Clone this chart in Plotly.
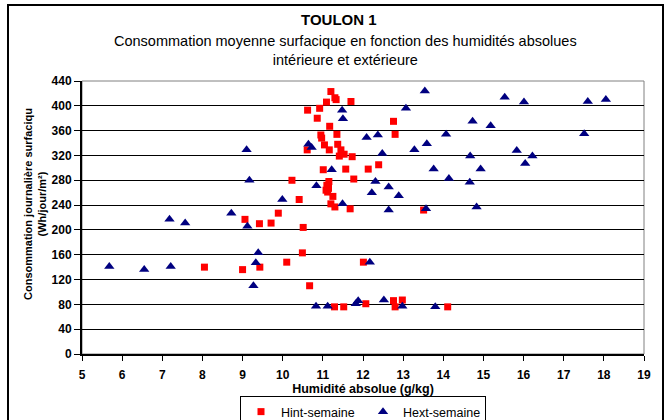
import plotly.graph_objects as go

# Hint-semaine (red squares)
hint_x = [11.20, 11.30, 11.33, 11.09, 11.70, 10.62, 10.92, 10.86, 11.17, 10.95,
          11.35, 10.97, 11.04, 11.37, 11.16, 11.45, 10.61, 11.53, 11.41, 11.73,
          11.01, 11.57, 12.13, 12.39, 11.77, 10.23, 11.15, 11.10, 11.14, 11.08,
          11.12, 11.25, 10.41, 11.20, 11.30, 11.68, 9.89, 9.06, 9.42, 9.71,
          10.51, 12.76, 12.80, 13.51, 8.05, 9.00, 9.43, 10.10, 10.49, 10.67,
          12.01, 11.29, 11.52, 12.07, 12.76, 12.80, 12.98, 14.11]
hint_y = [423, 413, 410, 406, 407, 393, 396, 380, 367, 353,
          354, 348, 337, 338, 329, 329, 329, 322, 319, 318,
          297, 298, 298, 305, 282, 280, 278, 272, 267, 264,
          261, 254, 249, 242, 237, 234, 227, 217, 210, 211,
          204, 375, 354, 232, 140, 136, 140, 148, 163, 110,
          148, 76, 76, 81, 86, 76, 87, 76]

# Hext-semaine (navy triangles)
hext_x = [11.48, 11.50, 10.64, 10.72, 9.10, 11.22, 9.17, 10.84, 9.99, 11.49,
          8.72, 7.18, 7.57, 9.12, 5.68, 6.55, 7.21, 9.39, 9.33, 9.27,
          10.83, 11.12, 11.82, 11.88, 13.54, 13.07, 15.53, 16.01, 17.60, 18.05,
          14.73, 15.18, 12.09, 12.37, 14.07, 17.51, 13.59, 13.28, 15.83, 12.48,
          14.67, 16.22, 16.04, 13.76, 14.93, 12.31, 14.14, 14.66, 12.64, 12.22,
          12.89, 12.64, 13.57, 14.83, 12.17, 12.52, 12.98, 13.80]
hext_y = [393, 379, 338, 333, 329, 297, 280, 271, 249, 242,
          227, 217, 211, 206, 141, 136, 141, 163, 147, 110,
          77, 77, 81, 86, 424, 396, 414, 406, 407, 410,
          375, 368, 349, 353, 354, 355, 339, 329, 328, 323,
          319, 319, 307, 298, 298, 278, 283, 277, 269, 260,
          255, 232, 234, 237, 148, 87, 77, 76]

x_ticks = list(range(5, 20))
y_ticks = list(range(0, 441, 40))

title_main = "TOULON 1"
subtitle = "Consommation moyenne surfacique en fonction des humidités absolues<br>intérieure et extérieure"
x_title = "Humidité absolue (g/kg)"
y_title = "Consommation journalière surfaciqu<br>(Wh/jour/m²)"

FONT = "Liberation Sans, Arial, sans-serif"

fig = go.Figure()
fig.add_trace(go.Scatter(
    x=hint_x, y=hint_y, mode="markers", name="Hint-semaine",
    marker=dict(symbol="square", size=7, color="#FF0000"),
))
fig.add_trace(go.Scatter(
    x=hext_x, y=hext_y, mode="markers", name="Hext-semaine",
    marker=dict(symbol="triangle-up", size=9, color="#000080"),
))

W, H = 672, 420
L, R, T, B = 82, 644, 81, 354
pw, ph = R - L, B - T


def px2x(p):
    return (p - L) / pw


def py2y(p):
    return (B - p) / ph


fig.update_layout(
    width=W, height=H,
    margin=dict(l=L, r=W - R, t=T, b=H - B, autoexpand=False),
    paper_bgcolor="white", plot_bgcolor="white",
    font=dict(family=FONT, color="black", size=11),
    showlegend=True,
    legend=dict(
        orientation="h", x=px2x(240), xanchor="left", y=py2y(396), yanchor="top",
        bordercolor="black", borderwidth=1, bgcolor="white",
        font=dict(family=FONT, size=12.5, color="black"),
        itemwidth=30, entrywidth=77, tracegroupgap=0,
    ),
    xaxis=dict(
        range=[5, 19], tickvals=x_ticks, ticktext=["<b>%d</b>" % v for v in x_ticks],
        showgrid=False, zeroline=False, automargin=False,
        showline=True, linecolor="black", linewidth=2,
        ticks="outside", ticklen=5, tickcolor="black", tickwidth=1,
        ticklabelstandoff=4,
        tickfont=dict(family=FONT, size=12),
        title=dict(text="<b>" + x_title + "</b>", font=dict(family=FONT, size=12.5), standoff=2),
    ),
    yaxis=dict(
        range=[0, 440], tickvals=y_ticks, ticktext=["<b>%d</b>" % v for v in y_ticks],
        showgrid=True, gridcolor="black", gridwidth=1, zeroline=False, automargin=False,
        showline=True, linecolor="black", linewidth=2,
        ticks="outside", ticklen=6, tickcolor="black", tickwidth=1,
        tickfont=dict(family=FONT, size=12),
    ),
    shapes=[
        dict(type="rect", xref="paper", yref="paper", x0=0, x1=1, y0=0, y1=1,
             line=dict(color="#808080", width=1), layer="below"),
        dict(type="rect", xref="paper", yref="paper",
             x0=px2x(8), x1=px2x(663), y0=py2y(430), y1=py2y(5),
             line=dict(color="black", width=2)),
    ],
    annotations=[
        dict(text="<b>" + title_main + "</b>", xref="paper", yref="paper",
             x=px2x(339), y=py2y(20), xanchor="center", yanchor="middle",
             showarrow=False, font=dict(family=FONT, size=15, color="black")),
        dict(text=subtitle, xref="paper", yref="paper",
             x=px2x(345), y=py2y(51), xanchor="center", yanchor="middle",
             showarrow=False, font=dict(family=FONT, size=14.5, color="black")),
        dict(text="<b>" + y_title + "</b>", xref="paper", yref="paper",
             x=px2x(35), y=py2y(204), xanchor="center", yanchor="middle",
             textangle=-90, showarrow=False,
             font=dict(family=FONT, size=11, color="black")),
    ],
)

fig.write_html(
    "out.html",
    config={"displayModeBar": False},
    post_script="document.body.style.margin='0';document.body.style.padding='0';",
)
